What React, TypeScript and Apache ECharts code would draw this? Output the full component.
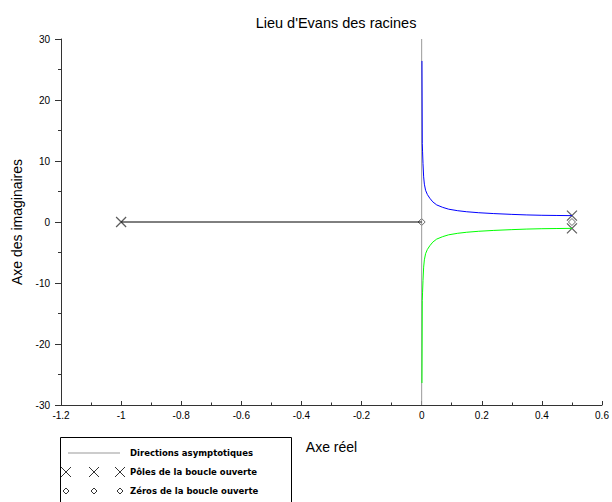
import React, { useEffect, useRef } from "react";
import * as echarts from "echarts";

const titleText = "Lieu d'Evans des racines";
const xName = "Axe réel";
const yName = "Axe des imaginaires";

// Branch 1 (upper, blue)
const blueRe = [0.5, 0.45, 0.4, 0.35, 0.3, 0.24, 0.19, 0.15, 0.12, 0.09, 0.07, 0.05, 0.037, 0.027, 0.019, 0.013, 0.009, 0.0066, 0.0044, 0.003, 0.002, 0.0015, 0.001];
const blueIm = [1.04, 1.07, 1.1, 1.16, 1.25, 1.38, 1.52, 1.68, 1.85, 2.1, 2.4, 2.8, 3.3, 3.9, 4.5, 5.2, 6.2, 7.4, 9.6, 11.5, 12.9, 20, 26.4];
// Branch 2 (lower, green)
const greenRe = [0.5, 0.45, 0.4, 0.35, 0.3, 0.24, 0.19, 0.15, 0.12, 0.09, 0.07, 0.05, 0.037, 0.027, 0.019, 0.013, 0.009, 0.0066, 0.0044, 0.003, 0.002, 0.0015, 0.001];
const greenIm = [-1.04, -1.07, -1.1, -1.16, -1.25, -1.38, -1.52, -1.68, -1.85, -2.1, -2.4, -2.8, -3.3, -3.9, -4.5, -5.2, -6.2, -7.4, -9.6, -11.5, -12.9, -20, -26.4];
// Real-axis segment (black)
const realRe = [-1, 0];
const realIm = [0, 0];
// Asymptote direction
const asymRe = [0, 0];
const asymIm = [-30, 30];
// Open-loop poles and zeros
const polesRe = [-1, 0.5, 0.5];
const polesIm = [0, 1.04, -1.04];
const zerosRe = [0, 0.5];
const zerosIm = [0, 0];

const legendLabels = ["Directions asymptotiques", "Pôles de la boucle ouverte", "Zéros de la boucle ouverte"];

const pairs = (a: number[], b: number[]) => a.map((v, i) => [v, b[i]]);

const X_PATH = "path://M0,0L10,10M10,0L0,10";

export default function App() {
  const ref = useRef<HTMLDivElement>(null);
  useEffect(() => {
    const chart = echarts.init(ref.current!, null, { renderer: "svg" });
    const font = "Liberation Sans";
    const lf = "DejaVu Sans";
    const legendGraphics: any[] = [
      { type: "rect", shape: { x: 60.5, y: 437.5, width: 231, height: 80 }, style: { fill: "#fff", stroke: "#000", lineWidth: 1 } },
      { type: "line", shape: { x1: 68, y1: 453, x2: 120, y2: 453 }, style: { stroke: "#999", lineWidth: 1 } },
      { type: "text", x: 130, y: 453, style: { text: legendLabels[0], font: `bold 8.5px '${lf}'`, fill: "#000", verticalAlign: "middle" } },
      { type: "text", x: 130, y: 472, style: { text: legendLabels[1], font: `bold 8.5px '${lf}'`, fill: "#000", verticalAlign: "middle" } },
      { type: "text", x: 130, y: 491, style: { text: legendLabels[2], font: `bold 8.5px '${lf}'`, fill: "#000", verticalAlign: "middle" } },
    ];
    [66, 94, 120].forEach((cx) => {
      legendGraphics.push({ type: "line", shape: { x1: cx - 5, y1: 467, x2: cx + 5, y2: 477 }, style: { stroke: "#333", lineWidth: 1 } });
      legendGraphics.push({ type: "line", shape: { x1: cx - 5, y1: 477, x2: cx + 5, y2: 467 }, style: { stroke: "#333", lineWidth: 1 } });
      legendGraphics.push({ type: "polygon", shape: { points: [[cx, 488], [cx + 3, 491], [cx, 494], [cx - 3, 491]] }, style: { fill: "#fff", stroke: "#333", lineWidth: 1 } });
    });

    chart.setOption({
      animation: false,
      backgroundColor: "#fff",
      title: {
        text: titleText,
        left: 331,
        top: 10,
        textAlign: "center",
        textStyle: { fontFamily: font, fontSize: 14.5, fontWeight: "normal", color: "#000" },
      },
      grid: { left: 61, right: 10, top: 39, bottom: 97, containLabel: false },
      xAxis: {
        type: "value",
        min: -1.2,
        max: 0.6,
        interval: 0.2,
        name: xName,
        nameLocation: "middle",
        nameGap: 35,
        nameTextStyle: { fontFamily: font, fontSize: 14, color: "#000" },
        axisLine: { show: true, onZero: false, lineStyle: { color: "#333", width: 1 } },
        axisTick: { show: true, inside: true, length: 4, lineStyle: { color: "#333" } },
        minorTick: { show: true, splitNumber: 2, length: 2.5, lineStyle: { color: "#333" } },
        splitLine: { show: false },
        axisLabel: { fontFamily: font, fontSize: 10, color: "#000", margin: 5 },
      },
      yAxis: {
        type: "value",
        min: -30,
        max: 30,
        interval: 10,
        name: yName,
        nameLocation: "middle",
        nameGap: 37,
        nameRotate: 90,
        nameTextStyle: { fontFamily: font, fontSize: 14, color: "#000" },
        axisLine: { show: true, onZero: false, lineStyle: { color: "#333", width: 1 } },
        axisTick: { show: true, length: 6, lineStyle: { color: "#333" } },
        minorTick: { show: true, splitNumber: 2, length: 3, lineStyle: { color: "#333" } },
        splitLine: { show: false },
        axisLabel: { fontFamily: font, fontSize: 10, color: "#000", margin: 11 },
      },
      graphic: legendGraphics,
      series: [
        { type: "line", data: pairs(asymRe, asymIm), showSymbol: false, lineStyle: { color: "#999", width: 1 }, silent: true },
        { type: "line", data: pairs(realRe, realIm), showSymbol: false, lineStyle: { color: "#000", width: 1 }, silent: true },
        { type: "line", data: pairs(blueRe, blueIm), showSymbol: false, lineStyle: { color: "#0000ff", width: 1 }, silent: true },
        { type: "line", data: pairs(greenRe, greenIm), showSymbol: false, lineStyle: { color: "#00ff00", width: 1 }, silent: true },
        {
          type: "scatter",
          data: pairs(polesRe, polesIm),
          symbol: X_PATH,
          symbolSize: 10,
          itemStyle: { color: "none", borderColor: "#333", borderWidth: 1.2 },
          silent: true,
        },
        {
          type: "scatter",
          data: pairs(zerosRe, zerosIm),
          symbol: "diamond",
          symbolSize: [7, 7],
          itemStyle: { color: "#fff", borderColor: "#444", borderWidth: 1 },
          silent: true,
        },
      ],
    });
    return () => chart.dispose();
  }, []);
  return <div ref={ref} style={{ width: 612, height: 502, position: "absolute", left: 0, top: 0 }} />;
}
